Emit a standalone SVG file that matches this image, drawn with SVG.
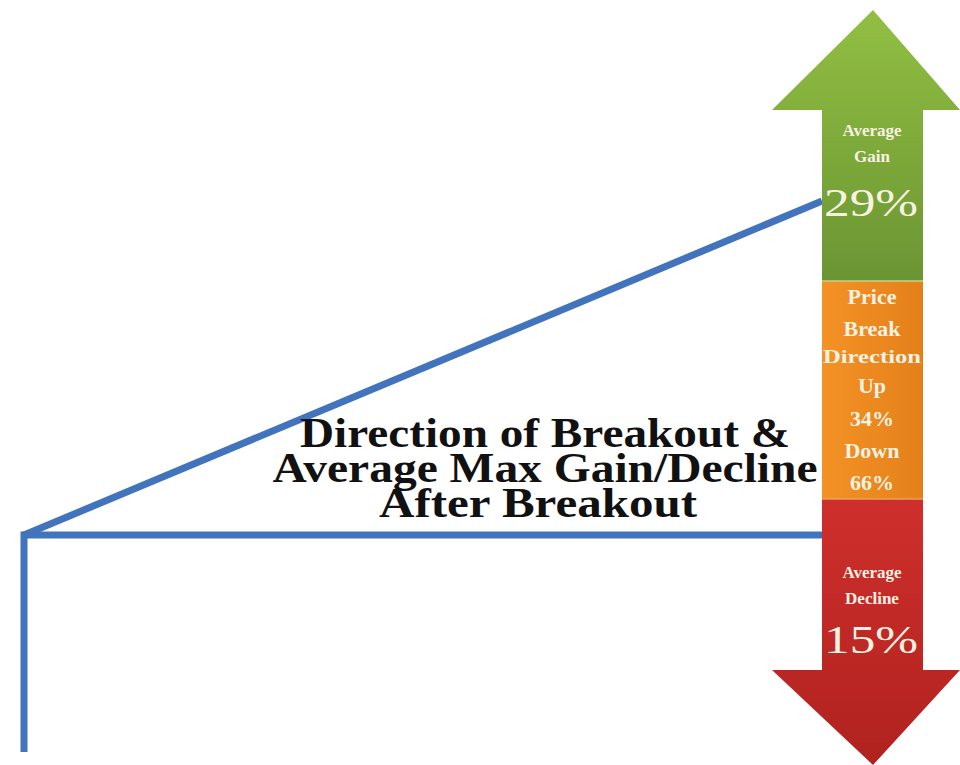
<svg xmlns="http://www.w3.org/2000/svg" width="960" height="765" viewBox="0 0 960 765">
<defs>
<linearGradient id="gG" x1="0" y1="0" x2="0" y2="1">
<stop offset="0" stop-color="#92bf42"/><stop offset="1" stop-color="#6a9533"/>
</linearGradient>
<linearGradient id="gO" x1="0" y1="0" x2="1" y2="0">
<stop offset="0" stop-color="#f39225"/><stop offset="1" stop-color="#e4801a"/>
</linearGradient>
<linearGradient id="gR" x1="0" y1="0" x2="0" y2="1">
<stop offset="0" stop-color="#cf2f2c"/><stop offset="1" stop-color="#b0221f"/>
</linearGradient>
<style>
.ln{stroke:#4273bd;stroke-width:7;fill:none;stroke-linecap:butt;stroke-linejoin:miter}
.t{font-family:"Liberation Serif","DejaVu Serif",serif;font-weight:bold;fill:#111;font-size:42px;text-anchor:middle}
.w{font-family:"Liberation Serif","DejaVu Serif",serif;font-weight:bold;fill:#f7f2e2;text-anchor:middle}
.p{font-family:"Liberation Serif","DejaVu Serif",serif;fill:#f7f2e2;text-anchor:middle;font-size:40px}
</style>
</defs>
<rect width="960" height="765" fill="#ffffff"/>
<g id="connectors">
<polyline class="ln" points="24,752 24,535 822,535"/>
<line class="ln" x1="24" y1="535" x2="822" y2="201"/>
</g>
<g id="title">
<text class="t" x="545" y="447" textLength="490" lengthAdjust="spacingAndGlyphs">Direction of Breakout &amp;</text>
<text class="t" x="545" y="482" textLength="545" lengthAdjust="spacingAndGlyphs">Average Max Gain/Decline</text>
<text class="t" x="538" y="517" textLength="318" lengthAdjust="spacingAndGlyphs">After Breakout</text>
</g>
<g id="gain">
<polygon points="873,10 960,110 923,110 923,281 822,281 822,110 772,110" fill="url(#gG)"/>
<text class="w" x="872" y="136" font-size="17">Average</text>
<text class="w" x="872" y="162" font-size="17">Gain</text>
<text class="p" x="871" y="216" textLength="94" lengthAdjust="spacingAndGlyphs">29%</text>
</g>
<g id="direction">
<rect x="822" y="281" width="101" height="218" fill="url(#gO)"/>
<line x1="822" y1="281" x2="923" y2="281" stroke="#c8d08a" stroke-width="1.5"/>
<text class="w" x="872" y="304" font-size="22">Price</text>
<text class="w" x="872" y="336" font-size="22">Break</text>
<text class="w" x="872" y="363" font-size="18" textLength="98" lengthAdjust="spacingAndGlyphs">Direction</text>
<text class="w" x="872" y="393" font-size="22">Up</text>
<text class="w" x="872" y="426" font-size="22" font-weight="normal">34%</text>
<text class="w" x="872" y="458" font-size="22">Down</text>
<text class="w" x="872" y="490" font-size="22" font-weight="normal">66%</text>
</g>
<g id="decline">
<polygon points="822,499 923,499 923,670 960,670 873,765 772,670 822,670" fill="url(#gR)"/>
<line x1="822" y1="499" x2="923" y2="499" stroke="#e8a060" stroke-width="1.5"/>
<text class="w" x="872" y="578" font-size="17">Average</text>
<text class="w" x="872" y="604" font-size="17">Decline</text>
<text class="p" x="871" y="653" textLength="94" lengthAdjust="spacingAndGlyphs">15%</text>
</g>
</svg>
